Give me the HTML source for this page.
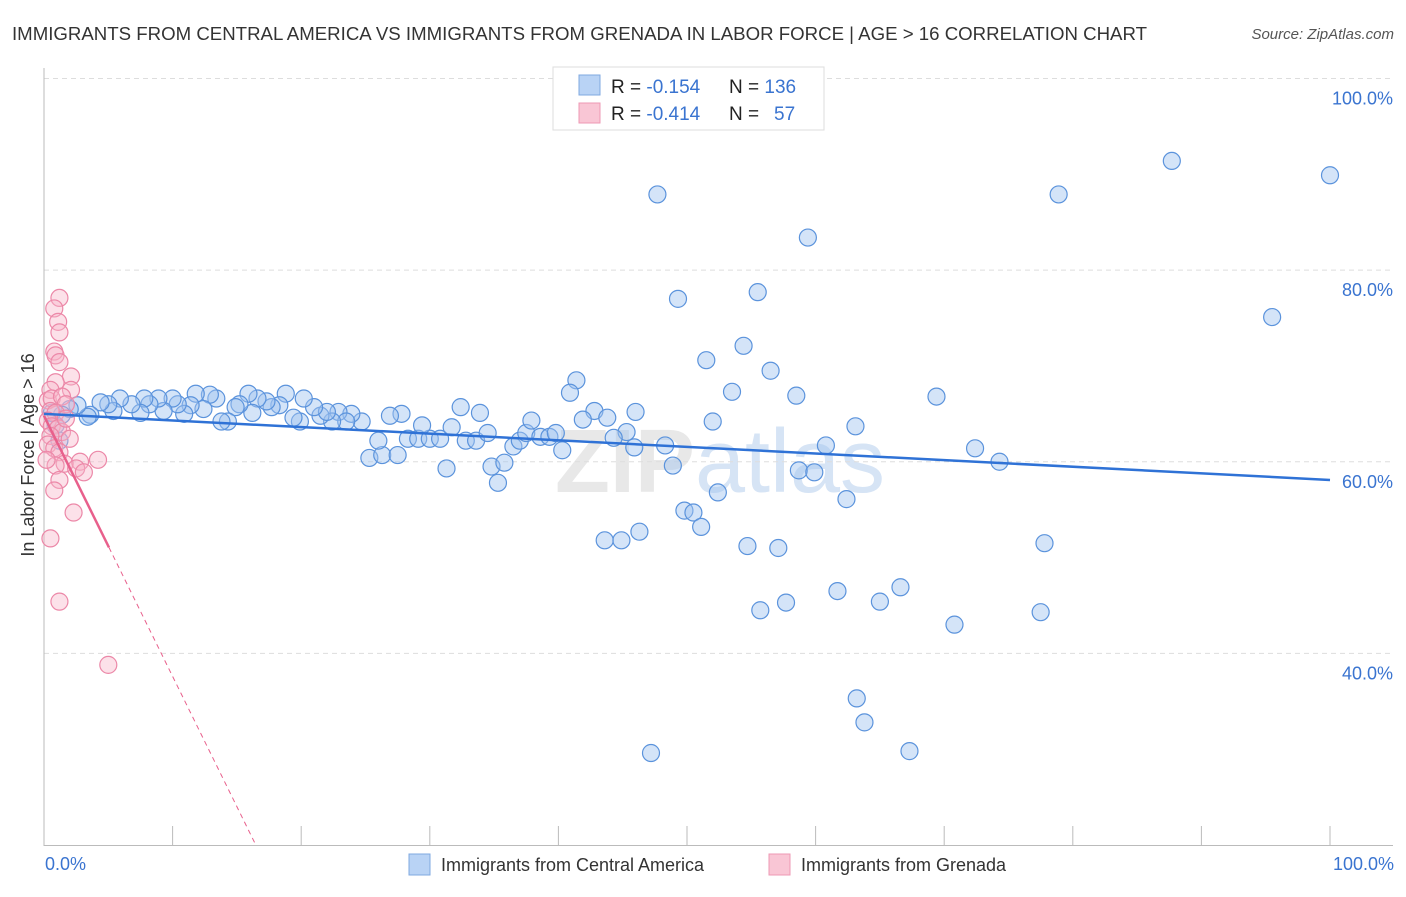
<!DOCTYPE html>
<html><head><meta charset="utf-8"><style>
body{margin:0;background:#fff;font-family:"Liberation Sans",sans-serif;}
svg text{font-family:"Liberation Sans",sans-serif;}
</style></head><body>
<svg width="1406" height="892" xmlns="http://www.w3.org/2000/svg">
<text x="12" y="40" font-size="18" fill="#333" textLength="1135" lengthAdjust="spacingAndGlyphs">IMMIGRANTS FROM CENTRAL AMERICA VS IMMIGRANTS FROM GRENADA IN LABOR FORCE | AGE &gt; 16 CORRELATION CHART</text>
<text x="1394" y="39" font-size="15" fill="#555" text-anchor="end" font-style="italic">Source: ZipAtlas.com</text>
<text x="720" y="492" font-size="90" fill="#e8e8e8" text-anchor="middle" font-weight="bold">ZIP<tspan fill="#d6e4f5" font-weight="normal">atlas</tspan></text>
<g id="grid"></g>
<g id="axes"></g>
<g id="pts"></g>
<g id="lines"></g>
<text transform="translate(34,455) rotate(-90)" font-size="18" fill="#333" text-anchor="middle">In Labor Force | Age &gt; 16</text>
<text x="45" y="870" font-size="18" fill="#3a74d0">0.0%</text>
<text x="1394" y="870" font-size="18" fill="#3a74d0" text-anchor="end">100.0%</text>
<g>
<rect x="409" y="854" width="21" height="21" fill="#b9d3f5" stroke="#7fa8e0"/>
<text x="441" y="871" font-size="18" fill="#333">Immigrants from Central America</text>
<rect x="769" y="854" width="21" height="21" fill="#f9c6d5" stroke="#ee98b4"/>
<text x="801" y="871" font-size="18" fill="#333">Immigrants from Grenada</text>
</g>
<g>
<rect x="553" y="67" width="271" height="63" fill="#fff" stroke="#ddd"/>
<rect x="579" y="75" width="21" height="20" fill="#b9d3f5" stroke="#7fa8e0"/>
<rect x="579" y="103" width="21" height="20" fill="#f9c6d5" stroke="#ee98b4"/>
<text x="611" y="93" font-size="19" fill="#222">R = <tspan fill="#3a74d0">-0.154</tspan><tspan x="729">N = </tspan><tspan fill="#3a74d0">136</tspan></text>
<text x="611" y="120" font-size="19" fill="#222">R = <tspan fill="#3a74d0">-0.414</tspan><tspan x="729">N = </tspan><tspan x="774" fill="#3a74d0">57</tspan></text>
</g>
</svg>
<script>
const yTicks=[40,60,80,100];
const yTickLabels=["40.0%","60.0%","80.0%","100.0%"];
const blueX=[47.7,87.7,100,78.9,59.4,49.3,55.5,95.5,51.5,54.4,56.5,53.5,58.5,69.4,41.4,40.9,32.4,33.9,42.8,46.0,52.0,41.9,43.8,45.3,44.3,45.9,48.3,60.8,63.1,72.4,74.3,48.9,58.7,59.9,52.4,62.4,49.8,50.5,51.1,46.3,43.6,44.9,54.7,57.1,77.8,66.6,61.7,65.0,57.7,55.7,77.5,70.8,63.2,63.8,67.3,47.2,31.3,34.8,35.3,35.8,25.3,26.3,27.5,26.0,28.3,29.1,30.0,30.8,31.7,32.8,33.6,34.5,36.5,37.0,37.5,37.9,38.6,39.3,39.8,40.3,29.4,27.8,26.9,24.7,23.9,22.9,23.5,22.4,21.5,22.0,21.0,20.2,19.9,19.4,18.8,18.3,17.7,17.3,16.6,16.2,15.9,15.2,14.9,14.3,13.8,13.4,12.9,12.4,11.8,11.4,10.9,10.4,10.0,9.3,8.9,8.2,7.8,7.5,6.8,5.9,5.4,5.0,4.4,3.6,3.4,2.6,2.0,1.4,0.9,0.6,1.2];
const blueY=[87.9,91.4,89.9,87.9,83.4,77.0,77.7,75.1,70.6,72.1,69.5,67.3,66.9,66.8,68.5,67.2,65.7,65.1,65.3,65.2,64.2,64.4,64.6,63.1,62.5,61.5,61.7,61.7,63.7,61.4,60.0,59.6,59.1,58.9,56.8,56.1,54.9,54.7,53.2,52.7,51.8,51.8,51.2,51.0,51.5,46.9,46.5,45.4,45.3,44.5,44.3,43.0,35.3,32.8,29.8,29.6,59.3,59.5,57.8,59.9,60.4,60.7,60.7,62.2,62.4,62.4,62.4,62.4,63.6,62.2,62.2,63.0,61.6,62.2,63.0,64.3,62.6,62.6,63.0,61.2,63.8,65.0,64.8,64.2,65.0,65.2,64.2,64.2,64.8,65.2,65.7,66.6,64.2,64.6,67.1,65.9,65.7,66.3,66.6,65.1,67.1,66.0,65.7,64.2,64.2,66.6,67.0,65.5,67.1,65.9,65.0,66.0,66.6,65.3,66.6,66.0,66.6,65.1,66.0,66.6,65.3,66.0,66.2,64.9,64.7,65.9,65.5,64.9,63.8,65.1,62.2];
const pinkX=[1.2,0.8,1.1,1.2,0.8,0.9,1.2,2.1,0.9,2.1,0.5,0.3,0.6,1.4,1.7,0.5,0.9,0.3,0.6,1.1,1.4,0.5,0.3,0.8,1.2,4.2,2.8,1.6,0.9,2.5,3.1,1.2,0.8,2.3,0.5,1.2,5.0,1.7,2.0,0.2];
const pinkY=[77.1,76.0,74.6,73.5,71.5,71.1,70.4,68.9,68.3,67.5,67.5,66.4,66.6,66.8,66.0,65.3,65.1,64.3,63.7,63.5,63.1,62.7,61.8,61.4,61.0,60.2,60.0,59.8,59.6,59.3,58.9,58.1,57.0,54.7,52.0,45.4,38.8,64.5,62.4,60.2];
const blueTrend=[65.0,58.1];
const pinkTrend=[64.8,-2.72];
const X0=44,X1=1330,Y20=845,Y100=78.5;
const sx=v=>X0+(X1-X0)*v/100;
const sy=v=>Y20-(Y20-Y100)*(v-20)/80;
const NS="http://www.w3.org/2000/svg";
function mk(tag,attrs,parent){const e=document.createElementNS(NS,tag);for(const k in attrs)e.setAttribute(k,attrs[k]);parent.appendChild(e);return e;}
const grid=document.getElementById('grid'),axes=document.getElementById('axes'),pts=document.getElementById('pts'),lines=document.getElementById('lines');
yTicks.forEach((t,i)=>{
 const l=mk('line',{x1:X0,x2:1393,y1:sy(t),y2:sy(t),stroke:'#ddd','stroke-dasharray':'5,4'},grid);
 
 
 const tx=mk('text',{x:1393,y:sy(t)+26,'font-size':18,fill:'#3a74d0','text-anchor':'end'},grid);
 tx.textContent=yTickLabels[i];
 
 
});
const ya=mk('line',{x1:X0,x2:X0,y1:68,y2:846,stroke:'#bbb'},axes);


const xa=mk('line',{x1:X0,x2:1393,y1:845.5,y2:845.5,stroke:'#bbb'},axes);


for(let i=0;i<=10;i++){const t=mk('line',{x1:sx(i*10),x2:sx(i*10),y1:826,y2:846,stroke:'#bbb'},axes);
 
 }
blueX.forEach((x,i)=>{const c=mk('circle',{cx:sx(x),cy:sy(blueY[i]),r:8.5,fill:'rgba(160,196,240,0.45)',stroke:'#5b93dc','stroke-width':1.2},pts);
 
 });
pinkX.forEach((x,i)=>{const c=mk('circle',{cx:sx(x),cy:sy(pinkY[i]),r:8.5,fill:'rgba(248,180,200,0.4)',stroke:'#ec88a8','stroke-width':1.2},pts);
 
 });
const bl=mk('line',{x1:sx(0),y1:sy(blueTrend[0]),x2:sx(100),y2:sy(blueTrend[1]),stroke:'#2f72d6','stroke-width':2.5},lines);


const pe=5.05,pz=(20-pinkTrend[0])/pinkTrend[1];
const pl=mk('line',{x1:sx(0),y1:sy(pinkTrend[0]),x2:sx(pe),y2:sy(pinkTrend[0]+pinkTrend[1]*pe),stroke:'#e8608c','stroke-width':2.5},lines);


const pd=mk('line',{x1:sx(pe),y1:sy(pinkTrend[0]+pinkTrend[1]*pe),x2:sx(pz),y2:sy(20),stroke:'#e8608c','stroke-width':1,'stroke-dasharray':'5,4'},lines);


</script>
</body></html>
